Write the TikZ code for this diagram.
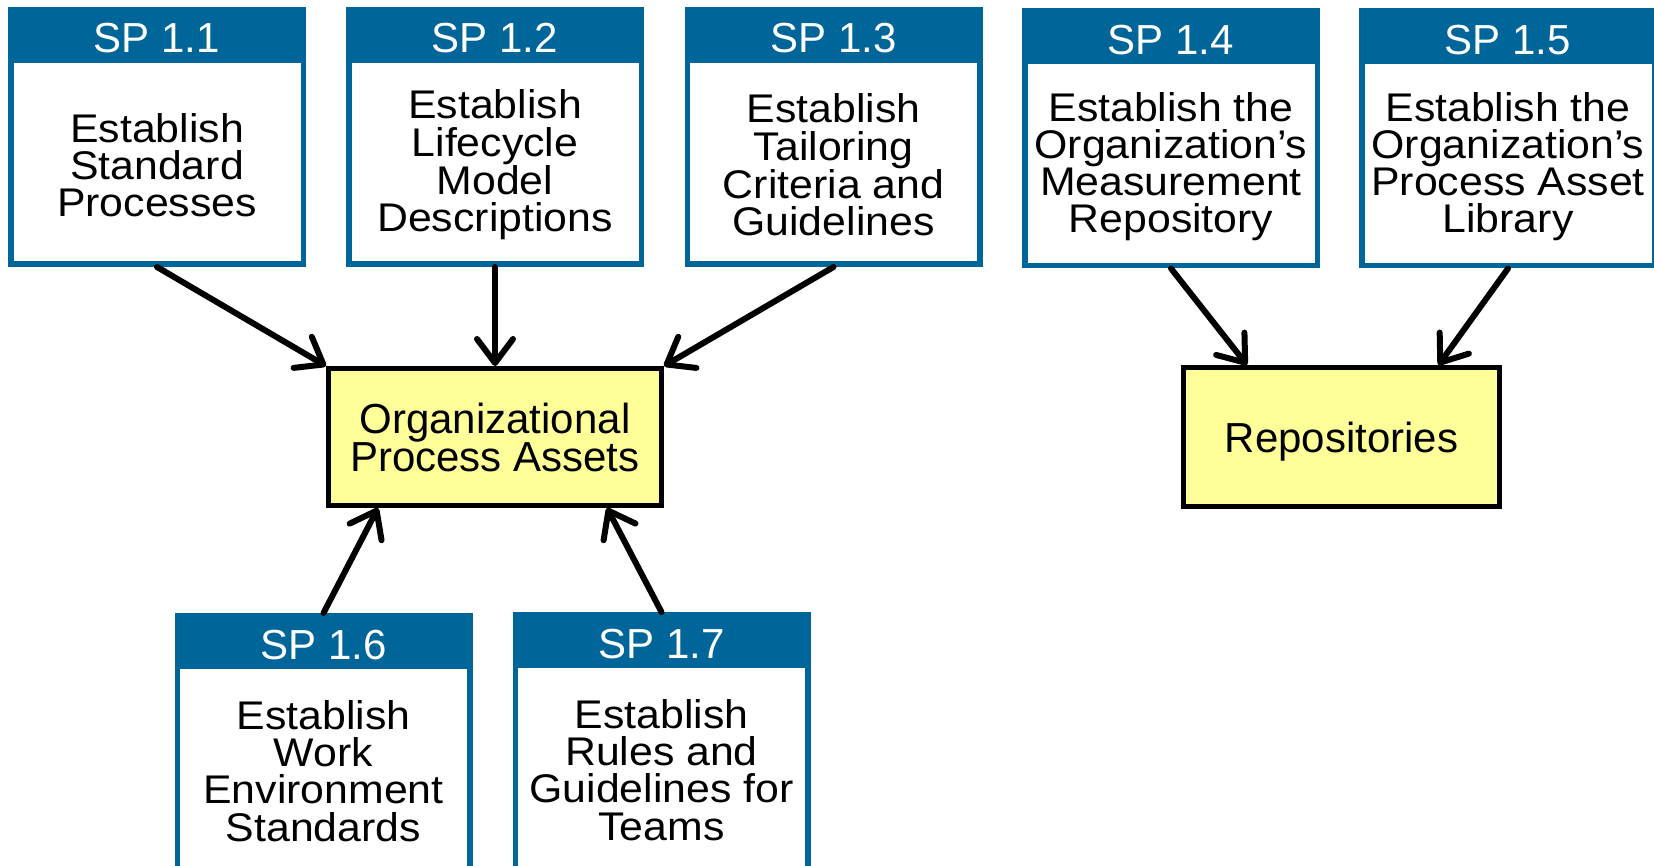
\documentclass[tikz,border=0pt]{standalone}
\usepackage{fontspec}
\setmainfont{Liberation Sans}
\newfontfamily\bodyfont[FakeStretch=1.07]{Liberation Sans}
\usetikzlibrary{arrows.meta}
\definecolor{spblue}{RGB}{0,102,153}
\definecolor{opayellow}{RGB}{255,255,153}
\tikzset{
 spframe/.style={draw=spblue, line width=5.5pt, fill=white, minimum width=292.5pt, minimum height=254.5pt, inner sep=0pt},
 sphead/.style={text=white, font=\fontsize{42}{42}\selectfont, anchor=base, inner sep=0pt},
 spbody/.style={font=\bodyfont\fontsize{40}{37.2}\selectfont, align=center, inner sep=0pt, text=black},
 goal/.style={draw=black, line width=5pt, fill=opayellow, font=\fontsize{42}{38}\selectfont, align=center, inner sep=0pt},
 flow/.style={line width=6pt, line cap=round, -{Straight Barb[length=24pt, width=36pt, line cap=round, line join=round]}},
}
\newcommand\mkspbox[5]{%
 \node[spframe] (#1) at (#2,#3+130) {};
 \fill[spblue] (#2-149,#3) rectangle (#2+149,#3+56);
 \node[sphead] (#1h) at (#2,#3+46) {#4};
 \node[spbody] (#1t) at (#2,#3+158) {#5};
}
\begin{document}
\begin{tikzpicture}[x=1pt,y=-1pt]
\fill[white] (0,0) rectangle (1654,866);
\useasboundingbox (0,0) rectangle (1654,866);
\mkspbox{b1}{157}{7}{SP 1.1}{Establish\\Standard\\Processes}
\mkspbox{b2}{495}{7}{SP 1.2}{Establish\\Lifecycle\\Model\\Descriptions}
\mkspbox{b3}{833.5}{7}{SP 1.3}{Establish\\Tailoring\\Criteria and\\Guidelines}
\mkspbox{b4}{1171}{8.5}{SP 1.4}{Establish the\\Organization’s\\Measurement\\Repository}
\mkspbox{b5}{1508}{8.5}{SP 1.5}{Establish the\\Organization’s\\Process Asset\\Library}
\mkspbox{b6}{323.5}{613}{SP 1.6}{Establish\\Work\\Environment\\Standards}
\mkspbox{b7}{661.5}{612}{SP 1.7}{Establish\\Rules and\\Guidelines for\\Teams}
\node[goal, minimum width=333pt, minimum height=137pt] (opa) at (495,437) {Organizational\\Process Assets};
\node[goal, text depth=0pt, minimum width=316pt, minimum height=139pt] (rep) at (1341.5,437) {Repositories};
\draw[flow] (b1.south) -- (opa.north west);
\draw[flow] (b2.south) -- (opa.north);
\draw[flow] (b3.south) -- (opa.north east);
\draw[flow] (b4.south) -- ([xshift=-94.5pt]rep.north);
\draw[flow] (b5.south) -- ([xshift=97pt]rep.north);
\draw[flow] (b6.north) -- ([xshift=-117pt]opa.south);
\draw[flow] (b7.north) -- ([xshift=112pt]opa.south);
\end{tikzpicture}
\end{document}
